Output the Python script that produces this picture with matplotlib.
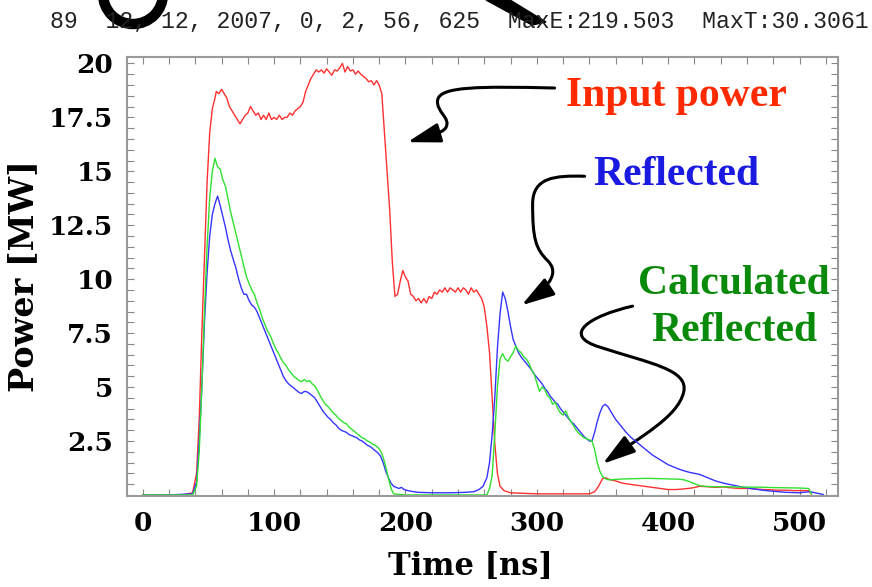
import matplotlib
matplotlib.use("Agg")
import matplotlib.pyplot as plt
from matplotlib.path import Path
from matplotlib.patches import FancyArrowPatch, Arc, Polygon
from matplotlib.ticker import MultipleLocator

# input power (red)
t_in = [0, 30, 38, 41, 43, 45, 47, 49, 51, 53, 55, 56, 58, 60, 62, 64, 66, 68, 70, 72, 74, 76, 78, 80,
        82, 84, 86, 88, 90, 92, 94, 96, 98, 100, 102, 104, 106, 108, 110, 112, 114, 116, 118, 120,
        122, 124, 126, 128, 130, 132, 134, 136, 138, 140, 142, 144, 146, 148, 150, 152, 154, 156,
        158, 160, 162, 164, 166, 168, 170, 172, 174, 176, 178, 180, 182, 184, 186, 188, 190, 192,
        194, 196, 198, 200, 202, 204, 206, 208, 210, 212, 214, 216, 218, 220, 222, 224, 226, 228,
        230, 232, 234, 236, 238, 240, 242, 244, 246, 248, 250, 252, 254, 256, 258, 260, 262, 264,
        266, 268, 270, 272, 275, 280, 300, 340, 344, 347, 350, 352, 356, 360, 365, 370, 376, 382,
        388, 394, 400, 406, 412, 418, 424, 430, 436, 442, 448, 454, 460, 466, 472, 478, 484, 490,
        496, 502, 507, 509]
p_in = [0, 0, 0.1, 1.0, 3.5, 7.5, 11, 14.5, 16.8, 17.9, 18.4, 18.7, 18.6, 18.8, 18.6, 18.4, 18.0, 17.8,
        17.6, 17.4, 17.2, 17.4, 17.6, 17.7, 18.0, 17.8, 17.6, 17.7, 17.4, 17.6, 17.4, 17.7, 17.4,
        17.5, 17.4, 17.6, 17.4, 17.5, 17.5, 17.7, 17.6, 17.8, 17.9, 18.0, 18.2, 18.7, 19.0, 19.3,
        19.5, 19.7, 19.6, 19.7, 19.55, 19.75, 19.6, 19.45, 19.7, 19.65, 19.8, 20.0, 19.6, 19.85,
        19.65, 19.7, 19.5, 19.65, 19.5, 19.4, 19.3, 19.15, 19.2, 19.0, 19.2, 19.0, 18.6, 16.8, 15.0,
        13.2, 10.8, 9.2, 9.3, 9.9, 10.4, 10.1, 9.9, 9.3, 9.2, 9.0, 9.1, 8.9, 9.1, 8.9, 9.2, 9.1, 9.4,
        9.3, 9.5, 9.4, 9.6, 9.4, 9.6, 9.5, 9.4, 9.6, 9.4, 9.6, 9.5, 9.3, 9.6, 9.4, 9.5, 9.3, 9.1,
        8.7, 7.8, 6.6, 4.5, 2.4, 1.0, 0.4, 0.2, 0.1, 0.05, 0.05, 0.15, 0.4, 0.75, 0.8, 0.7, 0.65,
        0.55, 0.5, 0.45, 0.4, 0.35, 0.3, 0.25, 0.25, 0.28, 0.32, 0.4, 0.38, 0.35, 0.37, 0.33, 0.3,
        0.3, 0.28, 0.25, 0.24, 0.22, 0.22, 0.2, 0.2, 0.2, 0.05]

# measured reflected power (blue)
t_ref = [0, 20, 38, 41, 43, 45, 47, 49, 51, 53, 55, 57, 59, 61, 63, 65, 67, 69, 71, 73, 75, 77, 79, 81,
         83, 85, 87, 89, 91, 93, 95, 97, 99, 101, 103, 105, 107, 109, 111, 113, 115, 117, 119, 121,
         123, 125, 127, 129, 131, 133, 135, 137, 139, 141, 143, 145, 147, 149, 151, 153, 155, 157,
         159, 161, 163, 165, 167, 169, 171, 173, 175, 177, 179, 181, 183, 185, 187, 189, 191, 193,
         195, 197, 199, 202, 206, 210, 220, 235, 245, 252, 256, 259, 262, 264, 266, 268, 270, 272,
         274, 276, 278, 280, 282, 284, 286, 288, 290, 292, 294, 296, 298, 300, 302, 304, 306, 308,
         310, 312, 314, 316, 318, 320, 322, 324, 326, 328, 330, 332, 334, 336, 338, 340, 342, 344,
         346, 348, 350, 352, 354, 356, 358, 360, 364, 368, 372, 376, 380, 384, 388, 392, 396, 400,
         404, 408, 412, 416, 420, 424, 428, 432, 436, 440, 444, 448, 452, 456, 460, 466, 472, 478,
         484, 490, 500, 508, 512, 518]
p_ref = [0, 0, 0.05, 0.6, 2.5, 5.0, 8.0, 10.3, 12.0, 13.0, 13.5, 13.85, 13.4, 12.9, 12.4, 11.8, 11.3,
         10.9, 10.5, 10.0, 9.6, 9.3, 9.3, 9.0, 8.8, 8.7, 8.5, 8.2, 7.9, 7.6, 7.3, 7.0, 6.7, 6.4, 6.1,
         5.8, 5.5, 5.3, 5.15, 5.05, 4.95, 4.85, 4.75, 4.7, 4.8, 4.78, 4.7, 4.6, 4.5, 4.3, 4.1, 3.9,
         3.75, 3.6, 3.5, 3.35, 3.25, 3.1, 3.0, 2.95, 2.9, 2.8, 2.75, 2.7, 2.65, 2.55, 2.5, 2.4, 2.3,
         2.25, 2.15, 2.05, 1.95, 1.8, 1.5, 1.1, 0.8, 0.55, 0.4, 0.35, 0.3, 0.35, 0.25, 0.2, 0.15,
         0.12, 0.1, 0.1, 0.12, 0.15, 0.25, 0.4, 0.8, 1.5, 2.8, 4.5, 6.8, 8.4, 9.4, 9.1, 8.5, 7.8,
         7.2, 6.9, 6.6, 6.4, 6.25, 6.1, 5.95, 5.8, 5.6, 5.45, 5.3, 5.15, 4.95, 4.8, 4.6, 4.45, 4.3,
         4.2, 4.0, 3.85, 3.7, 3.55, 3.4, 3.3, 3.15, 3.0, 2.85, 2.7, 2.6, 2.5, 2.5, 2.9, 3.4, 3.8,
         4.1, 4.2, 4.1, 3.9, 3.7, 3.5, 3.2, 2.9, 2.65, 2.45, 2.25, 2.05, 1.85, 1.7, 1.55, 1.4, 1.3,
         1.2, 1.12, 1.05, 1.0, 0.95, 0.85, 0.75, 0.65, 0.58, 0.52, 0.47, 0.42, 0.37, 0.33, 0.27,
         0.22, 0.18, 0.15, 0.12, 0.1, 0.15, 0.1, 0.02]

# calculated reflected power (green)
t_calc = [0, 38, 41, 43, 45, 47, 49, 51, 53, 55, 57, 59, 61, 63, 65, 67, 69, 71, 73, 75, 77, 79, 81,
          83, 85, 87, 89, 91, 93, 95, 97, 99, 101, 103, 105, 107, 109, 111, 113, 115, 117, 119, 121,
          123, 125, 127, 129, 131, 133, 135, 137, 139, 141, 143, 145, 147, 149, 151, 153, 155, 157,
          159, 161, 163, 165, 167, 169, 171, 173, 175, 177, 179, 181, 183, 185, 187, 189, 191, 200,
          262, 264, 266, 268, 270, 272, 274, 276, 278, 280, 282, 284, 286, 288, 290, 292, 294, 296,
          298, 300, 302, 304, 306, 308, 310, 312, 314, 316, 318, 320, 322, 324, 326, 328, 330, 332,
          334, 336, 338, 340, 342, 344, 346, 348, 350, 353, 356, 360, 366, 372, 378, 384, 390, 396,
          402, 408, 412, 416, 420, 424, 428, 434, 440, 450, 460, 470, 480, 490, 500, 507, 509]
p_calc = [0, 0, 0.4, 2.0, 5.0, 8.5, 11.5, 13.8, 15.0, 15.6, 15.2, 15.1, 14.6, 14.3, 13.7, 13.1, 12.6,
          12.1, 11.6, 11.1, 10.6, 10.1, 9.8, 9.5, 9.3, 8.9, 8.6, 8.2, 7.9, 7.6, 7.4, 7.1, 6.8, 6.6,
          6.35, 6.15, 6.0, 5.8, 5.65, 5.5, 5.4, 5.3, 5.25, 5.35, 5.25, 5.3, 5.15, 5.05, 4.85, 4.6,
          4.4, 4.2, 4.1, 3.95, 3.8, 3.7, 3.55, 3.45, 3.35, 3.3, 3.15, 3.05, 2.95, 2.85, 2.75, 2.65,
          2.6, 2.5, 2.45, 2.35, 2.3, 2.2, 2.05, 1.75, 1.3, 0.8, 0.3, 0.05, 0, 0, 0.3, 0.9, 2.8, 5.0,
          6.3, 6.55, 6.3, 6.2, 6.4, 6.6, 6.9, 6.7, 6.6, 6.4, 6.3, 6.1, 5.8, 5.6, 5.2, 4.8, 5.0, 4.9,
          4.6, 4.5, 4.2, 4.3, 4.0, 3.8, 3.7, 3.9, 3.6, 3.4, 3.2, 3.0, 2.85, 2.75, 2.65, 2.6, 2.55,
          2.5, 2.1, 1.5, 1.1, 0.85, 0.72, 0.7, 0.72, 0.74, 0.75, 0.76, 0.77, 0.76, 0.75, 0.74, 0.73,
          0.7, 0.62, 0.52, 0.43, 0.4, 0.38, 0.38, 0.37, 0.36, 0.36, 0.34, 0.33, 0.32, 0.3, 0.05]

yticks = [2.5, 5, 7.5, 10, 12.5, 15, 17.5, 20]
header = "89  12, 12, 2007, 0, 2, 56, 625  MaxE:219.503  MaxT:30.3061"

serif = "DejaVu Serif"
times = "Liberation Serif"

fig = plt.figure(figsize=(8.72, 5.87), dpi=100)
ax = fig.add_axes([0.1456, 0.155, 0.815, 0.748])

ax.plot(t_in, p_in, color="#ff3030", lw=1.0)
ax.plot(t_ref, p_ref, color="#3535ff", lw=1.0)
ax.plot(t_calc, p_calc, color="#30e030", lw=1.0)

ax.set_xlim(-12, 529)
ax.set_ylim(-0.05, 20.3)
ax.set_xticks([0, 100, 200, 300, 400, 500])
ax.xaxis.set_minor_locator(MultipleLocator(20))
ax.set_yticks(yticks)
ax.set_yticklabels(["%g" % v for v in yticks])
ax.yaxis.set_minor_locator(MultipleLocator(0.5))
ax.tick_params(which="both", direction="in", top=True, right=True, length=5,
               color="#888888", width=0.8)
ax.tick_params(axis="y", pad=10)
ax.tick_params(axis="x", pad=11)
for lab in ax.get_xticklabels() + ax.get_yticklabels():
    lab.set_fontfamily(serif)
    lab.set_fontweight("bold")
    lab.set_fontsize(19)
for sp in ax.spines.values():
    sp.set_color("#9a9a9a")
    sp.set_linewidth(1.5)

ax.set_xlabel("Time [ns]", fontfamily=serif, fontweight="bold", fontsize=22)
ax.xaxis.set_label_coords(0.484, -0.125)
ax.set_ylabel("Power [MW]", fontfamily=serif, fontweight="bold", fontsize=24, labelpad=6)

# annotations
ax.text(406, 18.5, "Input power", color="#ff2a00", fontfamily=times, fontweight="bold",
        fontsize=30, ha="center", va="center")
ax.text(406, 14.85, "Reflected", color="#1a1ae0", fontfamily=times, fontweight="bold",
        fontsize=30, ha="center", va="center")
ax.text(450, 8.7, "Calculated\nReflected", color="#0a8a0a", fontfamily=times, fontweight="bold",
        fontsize=30, ha="center", va="center", linespacing=1.3, multialignment="center")

C = Path.CURVE4
arrows = [
    ([(313.5, 18.86), (256.5, 18.94), (226, 18.94), (224.5, 18.3), (223, 17.75), (235.2, 17.47),
      (230.6, 17.01), (227.5, 16.74), (218.4, 16.65), (201.5, 16.35)],
     [Path.MOVETO, C, C, C, C, C, C, C, C, C]),
    ([(336.4, 14.77), (313.5, 14.81), (296.8, 14.72), (296.8, 13.48), (296.8, 11.87), (299.1, 11.41),
      (308.2, 10.86), (315.8, 10.4), (313.5, 9.8), (288.4, 8.79)],
     [Path.MOVETO, C, C, C, C, C, C, C, C, C]),
    ([(372.9, 8.75), (340.0, 8.3), (318.0, 7.4), (348.0, 6.85), (385.8, 6.1), (416.3, 5.81),
      (411.7, 4.75), (407.2, 3.6), (378.2, 2.68), (350.1, 1.44)],
     [Path.MOVETO, C, C, C, C, C, C, C, C, C]),
]
for verts, codes in arrows:
    arr = FancyArrowPatch(path=Path(verts, codes), arrowstyle="-|>,head_length=2.0,head_width=0.6",
                          mutation_scale=10, lw=2.2, color="black", transform=ax.transData,
                          clip_on=False)
    ax.add_patch(arr)

# header line and cropped black shapes at the top
fig.text(50 / 872, 1 - 28 / 587, header, fontfamily="Liberation Mono", fontsize=16.7,
         color="#222222", ha="left", va="baseline")
fig.patches.append(Arc((133 / 872, 1 + 6 / 587), 60 / 872, 60 / 587, theta1=180, theta2=360,
                       lw=7.5, color="black", transform=fig.transFigure))
fig.patches.append(Polygon([(486 / 872, 1.0), (510 / 872, 1.0), (546 / 872, 1 - 22 / 587),
                            (532 / 872, 1 - 25 / 587)], closed=True, color="black",
                           transform=fig.transFigure))

fig.savefig("out.png", dpi=100)
